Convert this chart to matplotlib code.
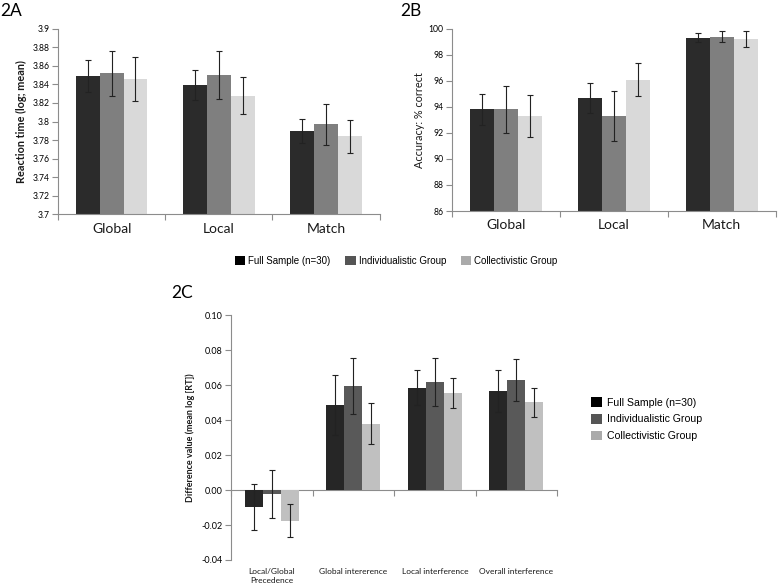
import numpy as np
import matplotlib
matplotlib.use("Agg")
import matplotlib.pyplot as plt
from matplotlib.patches import Patch

# ---- data ----
series = ["Full Sample (n=30)", "Individualistic Group", "Collectivistic Group"]

cats_ab = ["Global", "Local", "Match"]
rt_mean = [[3.849, 3.839, 3.790],
           [3.852, 3.850, 3.797],
           [3.846, 3.828, 3.784]]
rt_err = [[0.017, 0.016, 0.013],
          [0.024, 0.026, 0.022],
          [0.024, 0.020, 0.018]]

acc_mean = [[93.8, 94.7, 99.3],
            [93.8, 93.3, 99.4],
            [93.3, 96.1, 99.2]]
acc_err = [[1.2, 1.15, 0.35],
           [1.8, 1.9, 0.4],
           [1.6, 1.25, 0.6]]

cats_c = ["Local/Global\nPrecedence", "Global intererence",
          "Local interference", "Overall interference"]
diff_mean = [[-0.0097, 0.0486, 0.0585, 0.0564],
             [-0.0021, 0.0595, 0.0616, 0.0629],
             [-0.0175, 0.0379, 0.0555, 0.0501]]
diff_err = [[0.013, 0.017, 0.010, 0.012],
            [0.0138, 0.0158, 0.0138, 0.0118],
            [0.0095, 0.0117, 0.0084, 0.0085]]

cols_ab = ["#2b2b2b", "#7f7f7f", "#d9d9d9"]
cols_c = ["#262626", "#595959", "#c0c0c0"]
leg_cols = ["#000000", "#555555", "#aaaaaa"]

GRAY = "#8c8c8c"
TXT = "#1a1a1a"
W = 0.222

fig = plt.figure(figsize=(7.78, 5.87), dpi=100)


def bars(ax, cats, means, errs, cols, ylim, yticks, fmt):
    x = np.arange(len(cats))
    for i in range(3):
        ax.bar(x + (i - 1) * W, means[i], W, color=cols[i], zorder=2)
        ax.errorbar(x + (i - 1) * W, means[i], yerr=errs[i], fmt="none",
                    ecolor="#222222", elinewidth=0.8, capsize=2.2,
                    capthick=0.8, zorder=3)
    ax.set_xlim(-0.5, len(cats) - 0.5)
    ax.set_ylim(*ylim)
    ax.set_yticks(yticks)
    ax.set_yticklabels([fmt(v) for v in yticks])
    ax.set_xticks(x)
    ax.set_xticks(np.arange(len(cats) + 1) - 0.5, minor=True)
    ax.tick_params(axis="x", which="major", length=0)
    ax.tick_params(axis="x", which="minor", length=4, color=GRAY, width=0.8)
    ax.tick_params(axis="y", length=4, color=GRAY, width=0.8, pad=2)
    for s in ["top", "right"]:
        ax.spines[s].set_visible(False)
    for s in ["left", "bottom"]:
        ax.spines[s].set_color(GRAY)
        ax.spines[s].set_linewidth(0.8)
    return x


# ---- 2A ----
axA = fig.add_axes([0.0746, 0.635, 0.4134, 0.316])
bars(axA, cats_ab, rt_mean, rt_err, cols_ab, (3.7, 3.9),
     np.round(np.arange(3.7, 3.9001, 0.02), 2), lambda v: f"{v:g}")
axA.set_xticklabels(cats_ab, fontsize=10, family="Lato", color=TXT)
axA.tick_params(axis="x", which="major", pad=6)
for t in axA.get_yticklabels():
    t.set_fontsize(6.2)
    t.set_family("Lato")
axA.set_ylabel("Reaction time (log; mean)", fontsize=7.8, family="Lato",
               fontweight="bold", color=TXT, labelpad=4)

# ---- 2B ----
axB = fig.add_axes([0.581, 0.6405, 0.416, 0.3105])
bars(axB, cats_ab, acc_mean, acc_err, cols_ab, (86, 100),
     np.arange(86, 101, 2), lambda v: f"{v:g}")
axB.set_xticklabels(cats_ab, fontsize=10, family="Lato", color=TXT)
axB.tick_params(axis="x", which="major", pad=6)
for t in axB.get_yticklabels():
    t.set_fontsize(6.2)
    t.set_family("Lato")
axB.set_ylabel("Accuracy: % correct", fontsize=7.8, family="Lato",
               color=TXT, labelpad=3)

# ---- 2C ----
axC = fig.add_axes([0.297, 0.046, 0.419, 0.417])
ylimC = (-0.04, 0.10)
bars(axC, cats_c, diff_mean, diff_err, cols_c, ylimC,
     np.round(np.arange(-0.04, 0.1001, 0.02), 2), lambda v: f"{v:.2f}")
axC.spines["bottom"].set_visible(False)
axC.tick_params(axis="x", which="minor", length=0)
axC.set_xticklabels(cats_c, fontsize=6, family="Lato", color=TXT,
                    linespacing=1.3)
axC.tick_params(axis="x", which="major", pad=6)
for t in axC.get_yticklabels():
    t.set_fontsize(6.5)
    t.set_family("Lato")
axC.set_ylabel("Difference value (mean log [RT])", fontsize=6.5,
               family="Lato", fontweight="bold", color=TXT, labelpad=5)
zero_frac = (0 - ylimC[0]) / (ylimC[1] - ylimC[0])
sec = axC.secondary_xaxis(zero_frac)
sec.set_xticks(np.arange(len(cats_c) + 1) - 0.5)
sec.set_xticklabels([])
sec.tick_params(length=4, color=GRAY, width=0.8, direction="out")
sec.spines["bottom"].set_color(GRAY)
sec.spines["bottom"].set_linewidth(0.8)

# ---- panel letters ----
fig.text(0.0, 1 - 3 / 587, "2A", fontsize=12.5, family="Lato", va="top")
fig.text(400 / 778, 1 - 3 / 587, "2B", fontsize=12.5, family="Lato", va="top")
fig.text(171 / 778, 1 - 285 / 587, "2C", fontsize=12.5, family="Lato", va="top")

# ---- legends ----
handles = [Patch(facecolor=c, edgecolor="none") for c in leg_cols]
fig.legend(handles, series, loc="center", bbox_to_anchor=(396 / 778, 1 - 261 / 587),
           ncol=3, frameon=False, prop={"family": "Liberation Sans", "size": 7},
           handlelength=1.1, handleheight=1.1, handletextpad=0.3,
           columnspacing=1.5, borderpad=0)
fig.legend(handles, series, loc="upper left", bbox_to_anchor=(586 / 778, 1 - 392 / 587),
           ncol=1, frameon=False, prop={"family": "Liberation Sans", "size": 7.6},
           handlelength=1.0, handleheight=1.0, handletextpad=0.5,
           labelspacing=0.62, borderpad=0)

fig.savefig("out.png", dpi=100)
